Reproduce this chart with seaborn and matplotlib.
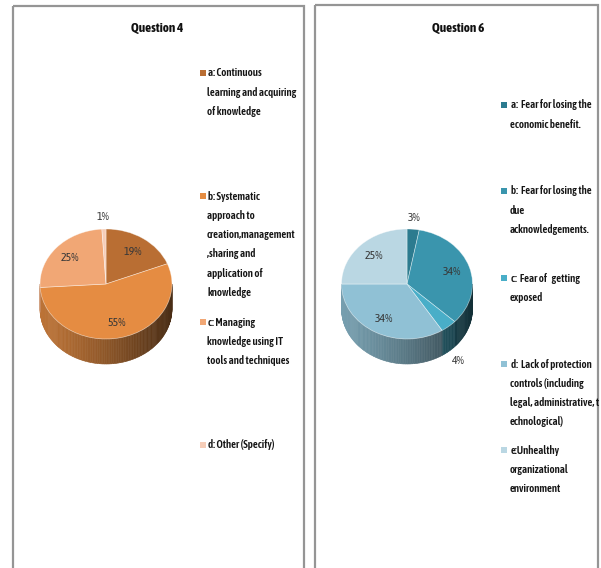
import numpy as np
import matplotlib
matplotlib.use("Agg")
import matplotlib.pyplot as plt
import seaborn as sns
from matplotlib.patches import Rectangle, Polygon
import matplotlib.colors as mcolors
from matplotlib import font_manager as fm

# ---------------- data ----------------
q4_title = "Question 4"
q4_labels = [
    "a: Continuous\nlearning and acquiring\nof knowledge",
    "b: Systematic\napproach to\ncreation,management\n,sharing and\napplication of\nknowledge",
    "c: Managing\nknowledge using IT\ntools and techniques",
    "d: Other (Specify)",
]
q4_values = [19, 55, 25, 1]
q4_colors = ["#B96E33", "#E58C42", "#F1A775", "#F6CDB8"]

q6_title = "Question 6"
q6_labels = [
    "a:  Fear for losing the\neconomic benefit.",
    "b:  Fear for losing the\ndue\nacknowledgements.",
    "c:  Fear of   getting\nexposed",
    "d:  Lack of protection\ncontrols (including\nlegal, administrative, t\nechnological)",
    "e:Unhealthy\norganizational\nenvironment",
]
q6_values = [3, 34, 4, 34, 25]
q6_colors = ["#2C7B8F", "#3A95AD", "#49AEC8", "#90C1D5", "#BAD7E3"]

# ---------------- style ----------------
sns.set_theme(style="white")

names = {f.name for f in fm.fontManager.ttflist}
for cand in ["Asap Condensed", "Archivo Narrow", "Barlow Semi Condensed"]:
    if cand in names:
        FAM = [cand, "DejaVu Sans"]
        break
else:
    FAM = ["Liberation Sans", "DejaVu Sans"]
plt.rcParams["font.family"] = FAM
LSIZE = 7.8
LWEIGHT = 600

W, H = 601, 568
fig = plt.figure(figsize=(W / 100, H / 100), dpi=100)
fig.patch.set_facecolor("white")

bg = fig.add_axes([0, 0, 1, 1])
bg.set_xlim(0, W)
bg.set_ylim(H, 0)
bg.axis("off")

# panel frames
for (x0, y0, x1) in [(13, 6, 304), (314.5, 5, 598)]:
    bg.add_patch(Rectangle((x0, y0), x1 - x0, 600, fill=False,
                           edgecolor="#959595", linewidth=1.6))

bg.text(157, 28, q4_title, ha="center", va="center", fontsize=9.5,
        fontweight="bold", color="#111111")
bg.text(458, 28, q6_title, ha="center", va="center", fontsize=9.5,
        fontweight="bold", color="#111111")


def darken(c, f):
    r, g, b = mcolors.to_rgb(c)
    return (r * (1 - f), g * (1 - f), b * (1 - f))


def pie3d(cx, cy, rx, ry, depth_px, values, colors):
    L = 1.7
    ax = fig.add_axes([(cx - L * rx) / W, (H - (cy + L * ry)) / H,
                       2 * L * rx / W, 2 * L * ry / H])
    wedges, _ = ax.pie(values, colors=colors, startangle=90,
                       counterclock=False, radius=1,
                       wedgeprops=dict(edgecolor=(1, 1, 1, 0.5), linewidth=0.5))
    for w in wedges:
        w.set_zorder(3)
    ax.set_aspect("auto")
    ax.set_xlim(-L, L)
    ax.set_ylim(-L, L)
    ax.axis("off")
    depth = depth_px / ry
    total = float(sum(values))
    cum = 0.0
    mids = []
    for v, c in zip(values, colors):
        a_hi = 90 - cum / total * 360
        a_lo = 90 - (cum + v) / total * 360
        mids.append(np.deg2rad((a_hi + a_lo) / 2))
        cum += v
        lo, hi = max(a_lo, -180), min(a_hi, 0)
        if hi <= lo:
            continue
        ts = np.linspace(lo, hi, max(3, int((hi - lo) / 1.5)))
        for t0, t1 in zip(ts[:-1], ts[1:]):
            r0, r1 = np.deg2rad(t0), np.deg2rad(t1)
            xm = np.cos((r0 + r1) / 2)
            f = 0.18 + 0.50 * ((xm + 1) / 2) ** 1.3
            col = darken(c, f)
            pts = [(np.cos(r0), np.sin(r0)), (np.cos(r1), np.sin(r1)),
                   (np.cos(r1), np.sin(r1) - depth), (np.cos(r0), np.sin(r0) - depth)]
            ax.add_patch(Polygon(pts, closed=True, facecolor=col,
                                 edgecolor=col, linewidth=0.4, zorder=1))
    # percentage labels
    for v, m in zip(values, mids):
        pct = f"{round(v / total * 100)}%"
        if v / total < 0.05:
            x, y = 1.22 * np.cos(m), 1.22 * np.sin(m)
            if y < 0:
                y -= depth
        else:
            x, y = 0.72 * np.cos(m), 0.72 * np.sin(m)
        ax.text(x, y, pct, ha="center", va="center", fontsize=8.6,
                color="#383838", zorder=5)
    return ax


pie3d(106, 284, 66, 55, 25, q4_values, q4_colors)
pie3d(407, 284, 65.5, 55, 25, q6_values, q6_colors)


def legend(x_marker, x_text, y_starts, labels, colors, lh=19.3):
    for y0, lab, c in zip(y_starts, labels, colors):
        bg.add_patch(Rectangle((x_marker - 3, y0 - 3), 6, 6, facecolor=c,
                               edgecolor="none"))
        for i, line in enumerate(lab.split("\n")):
            bg.text(x_text if i == 0 else x_text - 1, y0 + i * lh, line,
                    ha="left", va="center", fontsize=LSIZE, color="#151515",
                    fontweight=LWEIGHT)


legend(203, 208, [73, 196, 322, 445], q4_labels, q4_colors)
legend(504, 511, [105, 191, 278, 364, 450], q6_labels, q6_colors)

fig.savefig("out.png", dpi=100, facecolor="white")
